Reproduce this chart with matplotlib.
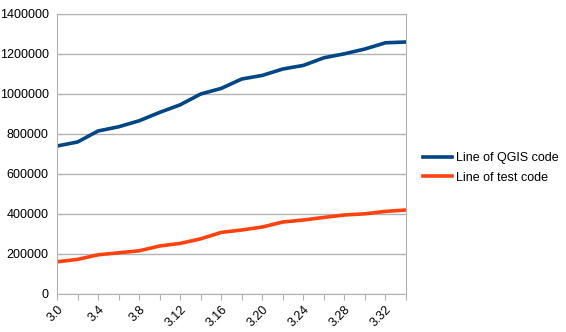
import numpy as np
import matplotlib.pyplot as plt

plt.rcParams['font.family'] = ['Liberation Sans', 'DejaVu Sans']

# data
versions = ["3.0", "3.2", "3.4", "3.6", "3.8", "3.10", "3.12", "3.14", "3.16",
            "3.18", "3.20", "3.22", "3.24", "3.26", "3.28", "3.30", "3.32", "3.34"]
qgis_lines = [740000, 760000, 815000, 836000, 866000, 908000, 946000, 1000000, 1028000,
              1075000, 1093000, 1125000, 1143000, 1181000, 1201000, 1225000, 1256000, 1260000]
test_lines = [161000, 173000, 196000, 206000, 216000, 240000, 253000, 276000, 308000,
              320000, 335000, 360000, 370000, 383000, 395000, 401000, 413000, 420000]

fig = plt.figure(figsize=(5.66, 3.32), dpi=100)
ax = fig.add_axes([57 / 566, 1 - 294 / 332, 349 / 566, 280 / 332])

x = np.arange(len(versions))
ax.plot(x, qgis_lines, color="#004586", lw=2.6, label="Line of QGIS code")
ax.plot(x, test_lines, color="#ff420e", lw=2.6, label="Line of test code")

ax.set_xlim(0, len(versions) - 1)
ax.set_ylim(0, 1400000)
ax.set_yticks(np.arange(0, 1400001, 200000))
ax.set_yticklabels([str(v) for v in range(0, 1400001, 200000)])
ax.set_xticks(x)
ax.set_xticklabels([v if i % 2 == 0 and i < 17 else "" for i, v in enumerate(versions)],
                   rotation=45, ha="right", rotation_mode="anchor")

ax.grid(axis="y", color="#b3b3b3", lw=1)
ax.set_axisbelow(True)
for s in ax.spines.values():
    s.set_color("#b3b3b3")
ax.tick_params(axis="y", length=0, pad=6, labelsize=9)
ax.tick_params(axis="x", color="#b3b3b3", length=4, direction="out", labelsize=9, pad=3)

fig.legend(loc="center left", bbox_to_anchor=(423 / 566, 1 - 168 / 332), frameon=False,
           fontsize=9, handlelength=2.3, labelspacing=0.6, handletextpad=0.3,
           borderpad=0, borderaxespad=0)

fig.savefig("out.png", dpi=100)
